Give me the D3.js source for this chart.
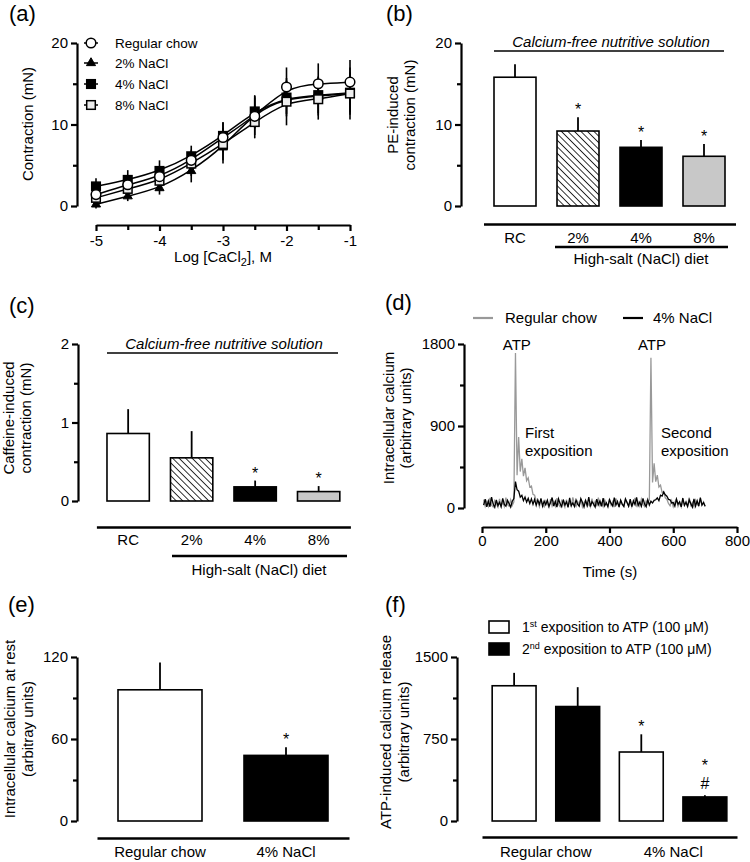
<!DOCTYPE html>
<html><head><meta charset="utf-8">
<script src="https://cdn.jsdelivr.net/npm/d3@7"></script>
<style>
body{margin:0;background:#fff;}
svg text{font-family:"Liberation Sans",Arial,Helvetica,sans-serif;fill:#000;}
</style></head><body>
<svg id="chart" width="750" height="862"></svg>
<script>
// ---------------- DATA ----------------
// (a) concentration-response
const logCa = [-5, -4.5, -4, -3.5, -3, -2.5, -2, -1.5, -1];
const rcMean  = [1.4, 2.6, 3.6, 5.6, 8.4, 11.0, 14.6, 15.0, 15.2];
const rcSem   = [0.9, 1.0, 1.1, 1.3, 1.8, 2.3, 2.4, 2.5, 2.7];
const n2Mean  = [0.2, 1.2, 2.2, 4.3, 7.2, 11.5, 13.2, 13.5, 13.8];
const n2Sem   = [0.5, 0.6, 0.8, 1.4, 2.0, 2.0, 2.2, 2.4, 2.6];
const n4Mean  = [2.4, 3.2, 4.3, 6.1, 8.6, 11.6, 13.3, 13.6, 13.9];
const n4Sem   = [1.0, 1.2, 1.3, 1.3, 1.7, 2.0, 2.0, 2.2, 2.4];
const n8Mean  = [1.0, 2.1, 3.1, 5.2, 7.6, 10.3, 12.8, 13.1, 13.8];
const n8Sem   = [1.0, 1.1, 1.2, 1.5, 2.0, 2.0, 2.9, 2.5, 3.2];
const seriesNamesA = ["Regular chow", "2% NaCl", "4% NaCl", "8% NaCl"];
const xTicksA = [-5, -4, -3, -2, -1];
const xMinorA = [-4.5, -3.5, -2.5, -1.5];

// (b) PE-induced contraction
const dietCats = ["RC", "2%", "4%", "8%"];
const peMean = [15.8, 9.2, 7.2, 6.1];
const peSem  = [1.6, 1.7, 0.9, 1.5];
const peSig  = ["", "*", "*", "*"];

// (c) caffeine-induced contraction
const cafMean = [0.86, 0.55, 0.18, 0.12];
const cafSem  = [0.31, 0.34, 0.08, 0.07];
const cafSig  = ["", "", "*", "*"];

// (d) calcium traces
const timeS = [5,10,15,20,25,30,35,40,45,50,55,60,65,70,75,80,85,90,95,100,
  105,110,115,120,125,130,135,140,145,150,155,160,165,170,175,180,185,190,195,200,
  205,210,215,220,225,230,235,240,245,250,255,260,265,270,275,280,285,290,295,300,
  305,310,315,320,325,330,335,340,345,350,355,360,365,370,375,380,385,390,395,400,
  405,410,415,420,425,430,435,440,445,450,455,460,465,470,475,480,485,490,495,500,
  505,510,515,520,525,530,535,540,545,550,555,560,565,570,575,580,585,590,595,600,
  605,610,615,620,625,630,635,640,645,650,655,660,665,670,675,680,685,690,695,700];
const rcTrace = [91,19,72,19,110,31,12,81,48,10,101,21,65,16,115,36,20,91,29,67,
  1700,360,780,400,540,350,440,300,330,230,240,150,140,80,72,14,93,33,12,77,
  48,10,98,21,67,19,108,38,14,81,55,8,91,26,62,20,117,41,16,72,
  31,101,12,60,86,17,45,10,103,33,74,18,113,24,57,14,89,43,22,96,
  29,69,10,105,50,19,79,36,15,93,62,19,84,12,53,110,26,67,20,98,
  41,16,77,48,91,1650,280,490,290,360,230,250,170,180,110,95,50,24,81,14,
  62,101,17,55,10,93,36,72,19,113,29,60,12,86,43,22,98,31,67,16];
const naTrace = [31,96,12,77,14,120,43,8,89,26,62,14,105,38,19,84,48,10,74,103,
  290,200,185,120,140,80,120,65,105,50,100,40,95,30,90,40,105,20,75,36,
  86,18,60,115,21,74,10,101,48,14,93,33,67,8,110,26,55,16,89,41,
  20,103,62,12,81,29,120,17,69,45,10,98,36,77,19,108,24,57,14,91,
  50,22,113,31,72,10,86,43,18,101,60,19,96,15,79,38,117,26,65,20,
  105,45,14,91,33,74,55,84,90,110,80,140,130,175,145,130,95,90,55,60,
  19,96,41,69,12,108,29,62,16,89,48,10,101,21,79,22,115,33,60,18];
const traceNames = ["Regular chow", "4% NaCl"];
const atpTimes = [106, 530];

// (e) resting calcium
const restCats = ["Regular chow", "4% NaCl"];
const restMean = [96, 48];
const restSem  = [20, 6];
const restSig  = ["", "*"];

// (f) ATP-induced calcium release
const atpGroups = ["Regular chow", "4% NaCl"];
const atpBars = ["RC-1", "RC-2", "Na-1", "Na-2"];
const atpMean = [1237, 1047, 631, 220];
const atpSem  = [118, 177, 162, 16];
const atpExpo = [1, 2, 1, 2];
const atpSig  = [[], [], ["*"], ["*", "#"]];

// ---------------- DRAWING ----------------
const svg = d3.select("#chart");
const defs = svg.append("defs");
defs.append("pattern").attr("id", "hatch").attr("patternUnits", "userSpaceOnUse")
  .attr("width", 4.6).attr("height", 4.6).attr("patternTransform", "rotate(-45)")
  .append("line").attr("x1", 0).attr("y1", 0).attr("x2", 0).attr("y2", 4.6)
  .attr("stroke", "#000").attr("stroke-width", 1.6);

const AX_W = 2.2;
function styleAxis(g, fs) {
  g.attr("font-size", fs || 15).attr("font-family", null);
  g.select(".domain").attr("stroke", "#000").attr("stroke-width", AX_W);
  g.selectAll(".tick line").attr("stroke", "#000").attr("stroke-width", AX_W);
  g.selectAll(".tick text").attr("fill", "#000");
}
function yAxis(scale, x, major, minor) {
  const g = svg.append("g").attr("transform", `translate(${x},0)`)
    .call(d3.axisLeft(scale).tickValues(major).tickSize(6).tickSizeOuter(0).tickPadding(3).tickFormat(d3.format("d")));
  styleAxis(g);
  const gm = svg.append("g").attr("transform", `translate(${x},0)`)
    .call(d3.axisLeft(scale).tickValues(minor).tickSize(4).tickSizeOuter(0).tickFormat(""));
  gm.select(".domain").remove();
  styleAxis(gm);
}
function bandAxis(scale, y, pad) {
  const g = svg.append("g").attr("transform", `translate(0,${y})`)
    .call(d3.axisBottom(scale).tickSize(0).tickSizeOuter(0).tickPadding(pad));
  styleAxis(g);
  g.select(".domain").attr("stroke-width", 2.6);
  return g;
}
function yLabel(lines, x0, cy, gap) {
  const t = svg.append("text").attr("transform", `translate(${x0},${cy}) rotate(-90)`)
    .attr("text-anchor", "middle").attr("font-size", 15);
  lines.forEach((l, i) => t.append("tspan").attr("x", 0).attr("y", i * gap).attr("dy", "0.35em").text(l));
}
function panelLetter(s, x, y) {
  svg.append("text").attr("x", x).attr("y", y).attr("font-size", 22).text(s);
}
function hline(x1, x2, y, w, col) {
  svg.append("line").attr("x1", x1).attr("x2", x2).attr("y1", y).attr("y2", y)
    .attr("stroke", col || "#000").attr("stroke-width", w || 1.6);
}
function barSet(x, y, cats, means, sems, fills, sigs) {
  const g = svg.append("g");
  cats.forEach((c, i) => {
    const cx = x(c) + x.bandwidth() / 2;
    g.append("line").attr("x1", cx).attr("x2", cx).attr("y1", y(means[i])).attr("y2", y(means[i] + sems[i]))
      .attr("stroke", "#000").attr("stroke-width", 1.8);
    g.append("rect").attr("x", x(c)).attr("width", x.bandwidth())
      .attr("y", y(means[i])).attr("height", y(0) - y(means[i]))
      .attr("fill", fills[i]).attr("stroke", "#000").attr("stroke-width", 1.6);
    const s = sigs[i];
    const arr = Array.isArray(s) ? s : (s ? [s] : []);
    arr.slice().reverse().forEach((m, k) => {
      const off = m === "#" ? 6 : 2;
      g.append("text").attr("x", cx).attr("y", y(means[i] + sems[i]) - off - k * 22)
        .attr("text-anchor", "middle").attr("font-size", m === "#" ? 16 : 16).text(m);
    });
  });
}

// ===== (a) =====
panelLetter("(a)", 9, 21);
const xA = d3.scaleLinear().domain([-5, -1]).range([96, 350]);
const yA = d3.scaleLinear().domain([0, 20]).range([206, 43]);
yAxis(yA, 77, [0, 10, 20], [5, 15]);
{
  const g = svg.append("g").attr("transform", "translate(0,225)")
    .call(d3.axisBottom(xA).tickValues(xTicksA).tickSize(6).tickSizeOuter(0).tickPadding(4).tickFormat(d3.format("d")));
  styleAxis(g);
  g.selectAll(".tick text").text(d => String(d));
  const gm = svg.append("g").attr("transform", "translate(0,225)")
    .call(d3.axisBottom(xA).tickValues(xMinorA).tickSize(5).tickSizeOuter(0).tickFormat(""));
  gm.select(".domain").remove(); styleAxis(gm);
}
{
  const t = svg.append("text").attr("x", 223).attr("y", 262).attr("text-anchor", "middle").attr("font-size", 15);
  t.append("tspan").text("Log [CaCl");
  t.append("tspan").attr("font-size", 11).attr("dy", 4).text("2");
  t.append("tspan").attr("dy", -4).text("], M");
}
yLabel(["Contraction (mN)"], 28, 124, 0);

const seriesA = [
  {name: seriesNamesA[2], mean: n4Mean, sem: n4Sem, sym: "sq", fill: "#000"},
  {name: seriesNamesA[1], mean: n2Mean, sem: n2Sem, sym: "tri", fill: "#000"},
  {name: seriesNamesA[3], mean: n8Mean, sem: n8Sem, sym: "sq", fill: "#eeeeee"},
  {name: seriesNamesA[0], mean: rcMean, sem: rcSem, sym: "circ", fill: "#fff"}
];
function marker(g, sym, fill, cx, cy) {
  if (sym === "circ") g.append("circle").attr("cx", cx).attr("cy", cy).attr("r", 4.8)
    .attr("fill", fill).attr("stroke", "#000").attr("stroke-width", 1.5);
  else if (sym === "sq") g.append("rect").attr("x", cx - 4.3).attr("y", cy - 4.3).attr("width", 8.6).attr("height", 8.6)
    .attr("fill", fill).attr("stroke", "#000").attr("stroke-width", 1.5);
  else g.append("path").attr("transform", `translate(${cx},${cy})`)
    .attr("d", d3.symbol(d3.symbolTriangle, 36)()).attr("fill", fill).attr("stroke", "#000").attr("stroke-width", 1);
}
const lineA = d3.line().x(d => xA(d[0])).y(d => yA(d[1])).curve(d3.curveBasis);
const gA = svg.append("g");
seriesA.forEach(s => {
  logCa.forEach((x, i) => {
    gA.append("line").attr("x1", xA(x)).attr("x2", xA(x)).attr("y1", yA(s.mean[i] - s.sem[i])).attr("y2", yA(s.mean[i] + s.sem[i]))
      .attr("stroke", "#000").attr("stroke-width", 1.6);
  });
});
seriesA.forEach(s => {
  gA.append("path").attr("d", lineA(logCa.map((x, i) => [x, s.mean[i]])))
    .attr("fill", "none").attr("stroke", "#000").attr("stroke-width", 1.5);
});
seriesA.forEach(s => {
  logCa.forEach((x, i) => marker(gA, s.sym, s.fill, xA(x), yA(s.mean[i])));
});
// legend (a)
const legA = [
  {name: seriesNamesA[0], sym: "circ", fill: "#fff", y: 43},
  {name: seriesNamesA[1], sym: "tri", fill: "#000", y: 63},
  {name: seriesNamesA[2], sym: "sq", fill: "#000", y: 84},
  {name: seriesNamesA[3], sym: "sq", fill: "#eeeeee", y: 105}
];
legA.forEach(l => {
  hline(84, 98, l.y, 1.5);
  marker(svg, l.sym, l.fill, 91, l.y);
  svg.append("text").attr("x", 115).attr("y", l.y).attr("dy", "0.35em").attr("font-size", 13.5).text(l.name);
});

// ===== (b) =====
panelLetter("(b)", 386, 21);
const xB = d3.scaleBand().domain(dietCats).range([483.5, 735.5]).paddingInner(1 / 3).paddingOuter(1 / 6);
const yB = d3.scaleLinear().domain([0, 20]).range([206, 43]);
yAxis(yB, 461, [0, 10, 20], [5, 15]);
barSet(xB, yB, dietCats, peMean, peSem, ["#fff", "url(#hatch)", "#000", "#c8c8c8"], peSig);
bandAxis(xB, 224, 8);
hline(555, 728, 247, 2.6);
svg.append("text").attr("x", 641).attr("y", 264).attr("text-anchor", "middle").attr("font-size", 15).text("High-salt (NaCl) diet");
hline(494, 724, 51, 1.6);
svg.append("text").attr("x", 611).attr("y", 47).attr("text-anchor", "middle").attr("font-size", 15)
  .attr("font-style", "italic").text("Calcium-free nutritive solution");
yLabel(["PE-induced", "contraction (mN)"], 393, 115, 17);

// ===== (c) =====
panelLetter("(c)", 9, 313);
const xC = d3.scaleBand().domain(dietCats).range([96.4, 350.4]).paddingInner(1 / 3).paddingOuter(1 / 6);
const yC = d3.scaleLinear().domain([0, 2]).range([501, 344]);
yAxis(yC, 78, [0, 1, 2], [0.5, 1.5]);
barSet(xC, yC, dietCats, cafMean, cafSem, ["#fff", "url(#hatch)", "#000", "#c8c8c8"], cafSig);
bandAxis(xC, 527, 7);
hline(172, 347, 556, 2.6);
svg.append("text").attr("x", 259).attr("y", 575).attr("text-anchor", "middle").attr("font-size", 15).text("High-salt (NaCl) diet");
hline(107, 338, 353, 1.6);
svg.append("text").attr("x", 224).attr("y", 349).attr("text-anchor", "middle").attr("font-size", 15)
  .attr("font-style", "italic").text("Calcium-free nutritive solution");
yLabel(["Caffeine-induced", "contraction (mN)"], 9, 418, 17);

// ===== (d) =====
panelLetter("(d)", 385, 310);
const xD = d3.scaleLinear().domain([0, 800]).range([482, 737]);
const yD = d3.scaleLinear().domain([0, 1800]).range([508, 344]);
yAxis(yD, 464, [0, 900, 1800], [450, 1350]);
{
  const g = svg.append("g").attr("transform", "translate(0,527)")
    .call(d3.axisBottom(xD).tickValues([0, 200, 400, 600, 800]).tickSize(6).tickSizeOuter(0).tickPadding(2).tickFormat(d3.format("d")));
  styleAxis(g);
}
svg.append("text").attr("x", 610).attr("y", 577).attr("text-anchor", "middle").attr("font-size", 15).text("Time (s)");
const lineD = d3.line().x((d, i) => xD(timeS[i])).y(d => yD(d));
svg.append("path").attr("d", lineD(rcTrace)).attr("fill", "none").attr("stroke", "#999").attr("stroke-width", 1.3);
svg.append("path").attr("d", lineD(naTrace)).attr("fill", "none").attr("stroke", "#000").attr("stroke-width", 1.3);
hline(473, 493, 318, 2.2, "#999");
svg.append("text").attr("x", 505).attr("y", 318).attr("dy", "0.35em").attr("font-size", 15).text(traceNames[0]);
hline(623, 643, 318, 2.2);
svg.append("text").attr("x", 653).attr("y", 318).attr("dy", "0.35em").attr("font-size", 15).text(traceNames[1]);
atpTimes.forEach(t => svg.append("text").attr("x", xD(t) + 1).attr("y", 345).attr("dy", "0.35em")
  .attr("text-anchor", "middle").attr("font-size", 15).text("ATP"));
[["First", "exposition", 525], ["Second", "exposition", 661]].forEach(a => {
  svg.append("text").attr("x", a[2]).attr("y", 438).attr("font-size", 15).text(a[0]);
  svg.append("text").attr("x", a[2]).attr("y", 456).attr("font-size", 15).text(a[1]);
});
yLabel(["Intracellular calcium", "(arbitrary units)"], 389, 418, 17);

// ===== (e) =====
panelLetter("(e)", 8, 612);
const xE = d3.scaleBand().domain(restCats).range([97, 349]).paddingInner(1 / 3).paddingOuter(1 / 6);
const yE = d3.scaleLinear().domain([0, 120]).range([821, 657]);
yAxis(yE, 77, [0, 60, 120], [30, 90]);
barSet(xE, yE, restCats, restMean, restSem, ["#fff", "#000"], restSig);
bandAxis(xE, 838, 8.5);
yLabel(["Intracellular calcium at rest", "(arbitray units)"], 10, 729, 18);

// ===== (f) =====
panelLetter("(f)", 385, 612);
const xF = d3.scaleBand().domain(atpBars).range([482, 737]).paddingInner(0.31).paddingOuter(0.16);
const xFg = d3.scaleBand().domain(atpGroups).range([482, 737]);
const yF = d3.scaleLinear().domain([0, 1500]).range([821, 657]);
yAxis(yF, 457, [0, 750, 1500], [375, 1125]);
barSet(xF, yF, atpBars, atpMean, atpSem, atpExpo.map(e => e === 1 ? "#fff" : "#000"), atpSig);
bandAxis(xFg, 837, 9);
yLabel(["ATP-induced calcium release", "(arbitrary units)"], 386, 732, 18);
[["1", "st", 627, "#fff"], ["2", "nd", 649, "#000"]].forEach(l => {
  svg.append("rect").attr("x", 489).attr("y", l[2] - 6).attr("width", 20).attr("height", 12)
    .attr("fill", l[3]).attr("stroke", "#000").attr("stroke-width", 1.6);
  const t = svg.append("text").attr("x", 522).attr("y", l[2]).attr("dy", "0.35em").attr("font-size", 14);
  t.append("tspan").text(l[0]);
  t.append("tspan").attr("font-size", 9).attr("dy", -5).text(l[1]);
  t.append("tspan").attr("dy", 5).text(" exposition to ATP (100 \u03bcM)");
});
</script>
</body></html>
